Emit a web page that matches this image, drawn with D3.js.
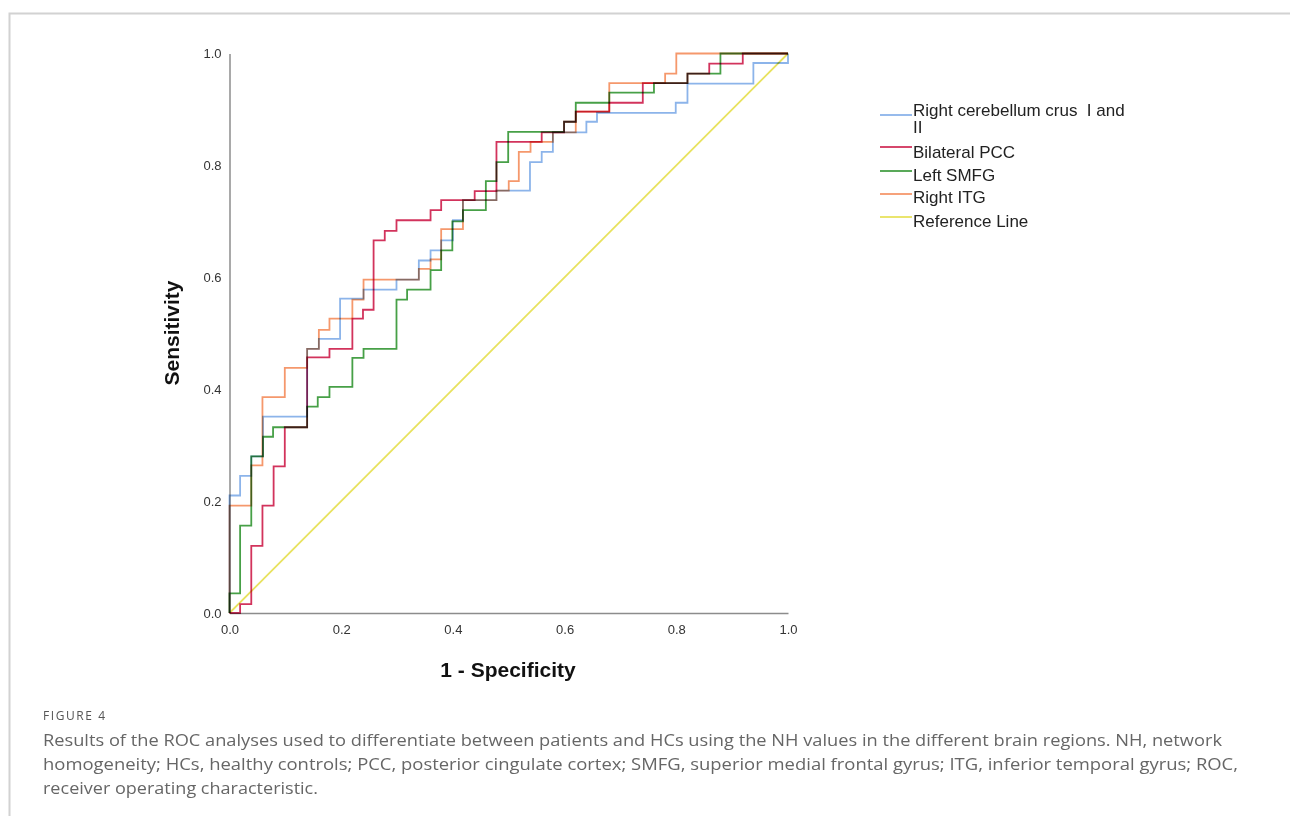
<!DOCTYPE html>
<html>
<head>
<meta charset="utf-8">
<script src="https://cdn.jsdelivr.net/npm/d3@7"></script>
<style>
  body { margin: 0; background: #fff; }
  svg { display: block; }
</style>
</head>
<body>
<div id="chart"></div>
<script>
// ROC curves, [1 - specificity, sensitivity] after each step (step-after)
var cerebellum = [[0,0],[0,0.21],[0.019,0.245],[0.039,0.28],[0.06,0.351],[0.139,0.472],[0.16,0.49],[0.198,0.562],[0.24,0.578],[0.299,0.596],[0.339,0.63],[0.36,0.648],[0.379,0.666],[0.4,0.702],[0.418,0.738],[0.478,0.755],[0.538,0.806],[0.559,0.824],[0.579,0.859],[0.639,0.878],[0.658,0.894],[0.799,0.912],[0.82,0.946],[0.938,0.983],[1,1]];
var pcc = [[0,0],[0.019,0.016],[0.039,0.12],[0.059,0.192],[0.079,0.262],[0.099,0.332],[0.139,0.457],[0.179,0.472],[0.22,0.526],[0.239,0.542],[0.258,0.666],[0.278,0.683],[0.299,0.702],[0.36,0.72],[0.379,0.738],[0.439,0.754],[0.478,0.842],[0.559,0.859],[0.599,0.878],[0.62,0.896],[0.68,0.912],[0.74,0.947],[0.82,0.964],[0.859,0.982],[0.919,1],[1,1]];
var smfg = [[0,0],[0,0.035],[0.019,0.156],[0.039,0.28],[0.06,0.315],[0.078,0.332],[0.139,0.369],[0.158,0.386],[0.179,0.404],[0.22,0.456],[0.24,0.472],[0.299,0.56],[0.318,0.578],[0.36,0.613],[0.379,0.648],[0.399,0.70],[0.418,0.72],[0.459,0.772],[0.478,0.806],[0.499,0.86],[0.599,0.878],[0.62,0.912],[0.68,0.93],[0.76,0.947],[0.82,0.964],[0.879,1],[1,1]];
var itg = [[0,0],[0,0.192],[0.039,0.264],[0.059,0.386],[0.099,0.438],[0.139,0.472],[0.16,0.506],[0.179,0.526],[0.22,0.56],[0.24,0.596],[0.339,0.615],[0.36,0.632],[0.379,0.686],[0.418,0.738],[0.478,0.755],[0.5,0.772],[0.518,0.824],[0.539,0.842],[0.579,0.859],[0.62,0.896],[0.68,0.947],[0.78,0.964],[0.8,1],[1,1]];
var refLine = [[0,0],[1,1]];

var seriesNames = ["Right cerebellum crus  I and\nII","Bilateral PCC","Left SMFG","Right ITG","Reference Line"];
var seriesData = [cerebellum, pcc, smfg, itg, refLine];
var colors = ["#8cb4ea","#d2335c","#47a047","#f5986c","#e8e25e"];

var tickValues = [0, 0.2, 0.4, 0.6, 0.8, 1.0];
var xTitle = "1 - Specificity";
var yTitle = "Sensitivity";

var figLabel = "FIGURE 4";
var captionLines = [
  "Results of the ROC analyses used to differentiate between patients and HCs using the NH values in the different brain regions. NH, network",
  "homogeneity; HCs, healthy controls; PCC, posterior cingulate cortex; SMFG, superior medial frontal gyrus; ITG, inferior temporal gyrus; ROC,",
  "receiver operating characteristic."
];
var captionWidths = [1179, 1195, 275];

var W = 1290, H = 816;
var svg = d3.select("#chart").append("svg")
    .attr("width", W).attr("height", H);
svg.append("rect").attr("width", W).attr("height", H).attr("fill", "#fff");

// frame
svg.append("path")
    .attr("d", "M9.5," + H + "V13.5H" + W)
    .attr("fill", "none")
    .attr("stroke", "#d2d2d2")
    .attr("stroke-width", 2);

var x = d3.scaleLinear().domain([0, 1]).range([229.5, 788]);
var y = d3.scaleLinear().domain([0, 1]).range([613, 53.5]);

var fmt = d3.format(".1f");

var gx = svg.append("g")
    .attr("transform", "translate(0," + y(0) + ")")
    .call(d3.axisBottom(x).tickValues(tickValues).tickFormat(fmt).tickSize(0).tickPadding(12));
var gy = svg.append("g")
    .attr("transform", "translate(" + x(0) + ",0)")
    .call(d3.axisLeft(y).tickValues(tickValues).tickFormat(fmt).tickSize(0).tickPadding(8));

[gx, gy].forEach(function(g){
  g.select(".domain").attr("stroke", "#8c8c8c").attr("stroke-width", 1.5);
  g.selectAll("text")
    .attr("fill", "#333")
    .style("font-family", "'Liberation Sans', Arial, sans-serif")
    .style("font-size", "13px");
});

svg.append("text")
    .attr("x", 508).attr("y", 677)
    .attr("text-anchor", "middle")
    .style("font-family", "'Liberation Sans', Arial, sans-serif")
    .style("font-weight", "bold")
    .style("font-size", "21px")
    .attr("fill", "#111")
    .text(xTitle);

svg.append("text")
    .attr("transform", "translate(179,333) rotate(-90)")
    .attr("text-anchor", "middle")
    .style("font-family", "'Liberation Sans', Arial, sans-serif")
    .style("font-weight", "bold")
    .style("font-size", "21px")
    .attr("fill", "#111")
    .text(yTitle);

var line = d3.line()
    .x(function(d){ return x(d[0]); })
    .y(function(d){ return y(d[1]); })
    .curve(d3.curveStepAfter);
var straight = d3.line()
    .x(function(d){ return x(d[0]); })
    .y(function(d){ return y(d[1]); });

svg.append("g").selectAll("path")
    .data(seriesData)
    .enter().append("path")
    .attr("d", function(d, i){ return i == 4 ? straight(d) : line(d); })
    .attr("fill", "none")
    .attr("stroke", function(d, i){ return colors[i]; })
    .attr("stroke-width", 1.8)
    .style("mix-blend-mode", "multiply");

// legend
var legY = [115, 147, 171, 194, 217];
var textY = [116, 158, 181, 203, 227];
var leg = svg.append("g");
seriesNames.forEach(function(name, i){
  leg.append("line")
    .attr("x1", 880).attr("x2", 912)
    .attr("y1", legY[i]).attr("y2", legY[i])
    .attr("stroke", colors[i]).attr("stroke-width", 1.8);
  var t = leg.append("text")
    .attr("x", 913).attr("y", textY[i])
    .attr("fill", "#222")
    .style("font-family", "'Liberation Sans', Arial, sans-serif")
    .style("font-size", "17px")
    .style("white-space", "pre");
  name.split("\n").forEach(function(part, j){
    t.append("tspan").attr("x", 913).attr("dy", j == 0 ? 0 : 17).text(part);
  });
});

// caption
svg.append("text")
    .attr("x", 43).attr("y", 720)
    .attr("fill", "#555")
    .style("font-family", "'Open Sans', Lato, sans-serif")
    .style("font-size", "12px")
    .attr("textLength", 62)
    .text(figLabel);

captionLines.forEach(function(s, i){
  svg.append("text")
    .attr("x", 43).attr("y", 746 + i * 24)
    .attr("fill", "#666")
    .attr("textLength", captionWidths[i])
    .attr("lengthAdjust", "spacingAndGlyphs")
    .style("font-family", "'Open Sans', Lato, sans-serif")
    .style("font-size", "16.5px")
    .text(s);
});
</script>
</body>
</html>
